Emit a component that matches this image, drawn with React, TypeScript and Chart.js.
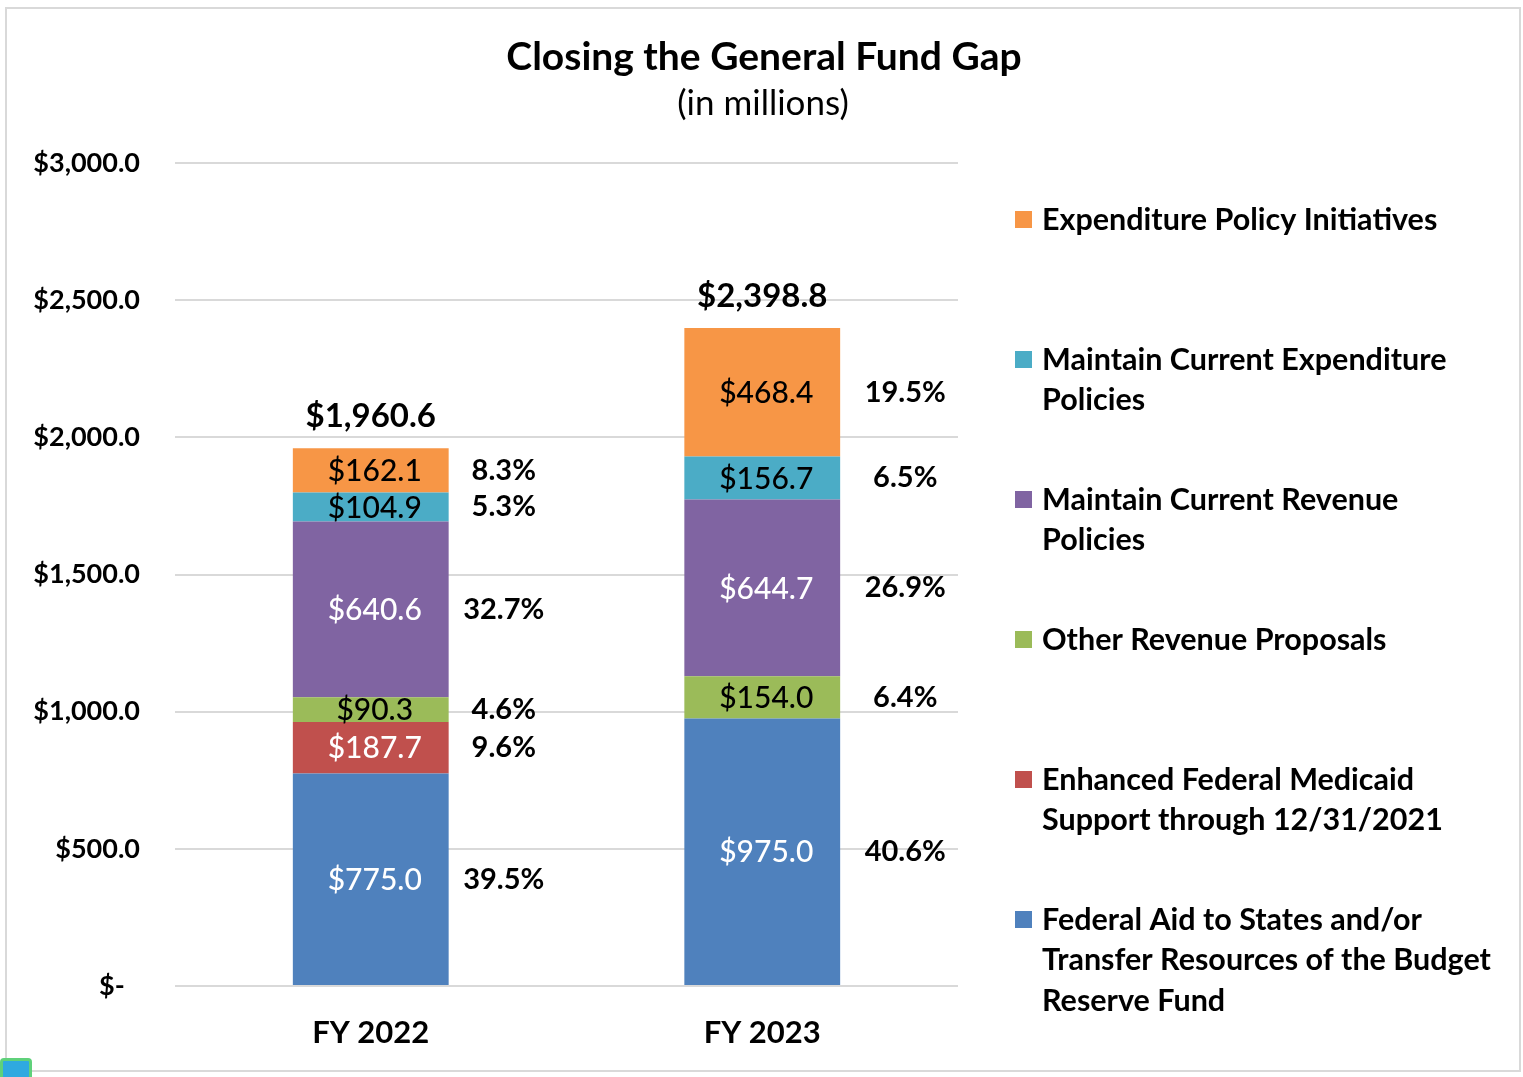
import React, { useEffect, useRef } from "react";
import { Chart, registerables } from "chart.js";

Chart.register(...registerables);

// ---------- data ----------
const categories = ["FY 2022", "FY 2023"];

// series, bottom of the stack to top
const federalAid = [775.0, 975.0];
const medicaidSupport = [187.7, 0];
const otherRevenue = [90.3, 154.0];
const maintainRevenue = [640.6, 644.7];
const maintainExpenditure = [104.9, 156.7];
const expenditureInitiatives = [162.1, 468.4];

const federalAidPct = ["39.5%", "40.6%"];
const medicaidSupportPct = ["9.6%", ""];
const otherRevenuePct = ["4.6%", "6.4%"];
const maintainRevenuePct = ["32.7%", "26.9%"];
const maintainExpenditurePct = ["5.3%", "6.5%"];
const expenditureInitiativesPct = ["8.3%", "19.5%"];

const totals = [1960.6, 2398.8];

const seriesNames = [
  "Federal Aid to States and/or Transfer Resources of the Budget Reserve Fund",
  "Enhanced Federal Medicaid Support through 12/31/2021",
  "Other Revenue Proposals",
  "Maintain Current Revenue Policies",
  "Maintain Current Expenditure Policies",
  "Expenditure Policy Initiatives",
];

// legend text as wrapped in the reference, top to bottom
const legendLines = [
  ["Expenditure Policy Initiatives"],
  ["Maintain Current Expenditure", "Policies"],
  ["Maintain Current Revenue", "Policies"],
  ["Other Revenue Proposals"],
  ["Enhanced Federal Medicaid", "Support through 12/31/2021"],
  ["Federal Aid to States and/or", "Transfer Resources of the Budget", "Reserve Fund"],
];

const yMin = 0;
const yMax = 3000;
const yStep = 500;

const chartTitle = "Closing the General Fund Gap";
const chartSubtitle = "(in millions)";

// ---------- styles ----------
const seriesColors = ["#4F81BD", "#C0504D", "#9BBB59", "#8064A2", "#4BACC6", "#F79646"];
const labelColors = ["#FFFFFF", "#FFFFFF", "#000000", "#FFFFFF", "#000000", "#000000"];
const FONT = "Lato, 'Open Sans', 'DejaVu Sans', sans-serif";
const pctOffsetX = [133, 143];

const fmtMoney = (v: number) =>
  "$" + v.toLocaleString("en-US", { minimumFractionDigits: 1, maximumFractionDigits: 1 });

const seriesValues = [
  federalAid,
  medicaidSupport,
  otherRevenue,
  maintainRevenue,
  maintainExpenditure,
  expenditureInitiatives,
];
const seriesPcts = [
  federalAidPct,
  medicaidSupportPct,
  otherRevenuePct,
  maintainRevenuePct,
  maintainExpenditurePct,
  expenditureInitiativesPct,
];

const labelPlugin = {
  id: "segLabels",
  afterDatasetsDraw(chart: any) {
    const ctx = chart.ctx;
    ctx.save();
    ctx.textBaseline = "middle";
    ctx.textAlign = "center";
    chart.data.datasets.forEach((ds: any, di: number) => {
      const meta = chart.getDatasetMeta(di);
      meta.data.forEach((bar: any, i: number) => {
        const v = ds.data[i];
        if (!v) return;
        const p = bar.getProps(["x", "y", "base"], true);
        const cy = (p.y + p.base) / 2;
        ctx.font = `500 30px ${FONT}`;
        ctx.fillStyle = labelColors[di];
        ctx.fillText(fmtMoney(v), p.x + 4, cy + 1);
        const pct = seriesPcts[di][i];
        if (pct) {
          ctx.font = `bold 29px ${FONT}`;
          ctx.fillStyle = "#000000";
          ctx.fillText(pct, p.x + pctOffsetX[i], cy);
        }
      });
    });
    // totals
    const yScale = chart.scales.y;
    const xScale = chart.scales.x;
    totals.forEach((t, i) => {
      ctx.font = `bold 33px ${FONT}`;
      ctx.fillStyle = "#000000";
      ctx.fillText(fmtMoney(t), xScale.getPixelForValue(i), yScale.getPixelForValue(t) - 32);
    });
    ctx.restore();
  },
};

const decorPlugin = {
  id: "decor",
  afterDraw(chart: any) {
    const ctx = chart.ctx;
    ctx.save();
    ctx.fillStyle = "#000000";
    ctx.textAlign = "center";
    ctx.textBaseline = "middle";
    ctx.font = `bold 39px ${FONT}`;
    ctx.fillText(chartTitle, 764, 57);
    ctx.font = `35px ${FONT}`;
    ctx.fillText(chartSubtitle, 763, 104);

    // legend (top to bottom = top of stack to bottom)
    const n = chart.data.datasets.length;
    ctx.textAlign = "left";
    ctx.font = `bold 30.5px ${FONT}`;
    for (let k = 0; k < n; k++) {
      const di = n - 1 - k;
      const ds = chart.data.datasets[di];
      const y0 = 220 + k * 140;
      ctx.fillStyle = ds.backgroundColor;
      ctx.fillRect(1015, y0 - 9, 17, 17);
      ctx.fillStyle = "#000000";
      legendLines[k].forEach((line, li) => {
        ctx.fillText(line, 1042, y0 + li * 40.5);
      });
    }
    ctx.restore();
  },
};

export default function App() {
  const canvasRef = useRef<HTMLCanvasElement | null>(null);

  useEffect(() => {
    if (!canvasRef.current) return;
    const chart = new Chart(canvasRef.current, {
      type: "bar",
      data: {
        labels: categories,
        datasets: seriesValues.map((vals, i) => ({
          label: seriesNames[i],
          data: vals,
          backgroundColor: seriesColors[i],
          borderWidth: 0,
          barPercentage: 1,
          categoryPercentage: 0.398,
        })),
      },
      options: {
        responsive: false,
        animation: false,
        layout: { padding: { left: 0, top: 163, right: 565, bottom: 0 } },
        plugins: {
          legend: { display: false },
          title: { display: false },
          tooltip: { enabled: false },
        },
        scales: {
          x: {
            stacked: true,
            grid: { display: false },
            border: { display: false },
            ticks: {
              color: "#000000",
              font: { family: FONT, size: 31, weight: "bold" },
              padding: 20,
            },
            afterFit(scale: any) {
              scale.height = 91;
            },
          },
          y: {
            stacked: true,
            min: yMin,
            max: yMax,
            grid: { color: "#D9D9D9", lineWidth: 2, drawTicks: false },
            border: { display: false },
            ticks: {
              stepSize: yStep,
              color: "#000000",
              padding: 35,
              font: { family: FONT, size: 27, weight: "bold" },
              callback: (v: any) => (Number(v) === 0 ? "$-\u2002\u200A" : fmtMoney(Number(v))),
            },
            afterFit(scale: any) {
              scale.width = 175;
            },
          },
        },
      },
      plugins: [labelPlugin, decorPlugin],
    });
    return () => chart.destroy();
  }, []);

  return (
    <div
      style={{
        position: "fixed",
        left: 0,
        top: 0,
        width: 1523,
        height: 1077,
        background: "#FFFFFF",
        overflow: "hidden",
      }}
    >
      <div
        style={{
          position: "absolute",
          left: 5,
          top: 7,
          width: 1512,
          height: 1061,
          border: "2px solid #D9D9D9",
        }}
      />
      <canvas
        ref={canvasRef}
        width={1523}
        height={1077}
        style={{ position: "absolute", left: 0, top: 0, width: 1523, height: 1077 }}
      />
      <div
        style={{
          position: "absolute",
          left: 0,
          top: 1058,
          width: 32,
          height: 24,
          background: "#2FA9E0",
          border: "3px solid #5FD17A",
          borderRadius: 4,
          boxSizing: "border-box",
        }}
      />
    </div>
  );
}
